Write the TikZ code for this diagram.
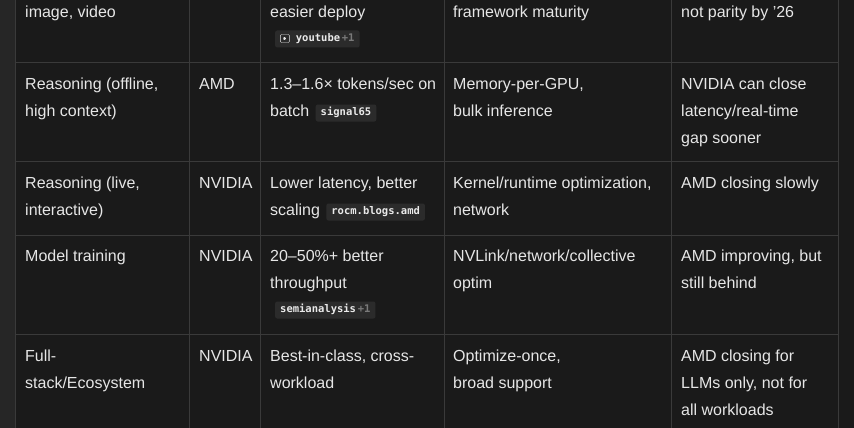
\documentclass[tikz,border=0pt]{standalone}
\usepackage{fontspec}
\setmainfont{Liberation Sans}
\setmonofont{DejaVu Sans Mono}
\usetikzlibrary{positioning}
\definecolor{bgcol}{HTML}{1A1A1A}
\definecolor{rulecol}{HTML}{3A3A3A}
\definecolor{txtcol}{HTML}{E6E6E6}
\definecolor{chipcol}{HTML}{2B2B2B}
\definecolor{dimcol}{HTML}{7A7A7A}
\tikzset{
  cell/.style={anchor=west,inner sep=0pt,yshift=-2pt,text height=11pt,text depth=4pt,text=txtcol,font=\fontsize{16}{16}\selectfont},
  chip/.style={anchor=west,fill=chipcol,rounded corners=2pt,inner xsep=5pt,inner ysep=4pt,
    text height=7pt,text depth=2pt,text=txtcol!85,font=\ttfamily\bfseries\fontsize{10.5}{10.5}\selectfont},
}
\newcommand{\plusone}{\,{\color{dimcol}+1}}
\begin{document}
\begin{tikzpicture}[x=1pt,y=-1pt]
\useasboundingbox (0,0) rectangle (854,428);
\fill[bgcol] (0,0) rectangle (854,428);
\fill[black!85] (0,0) rectangle (15,428);
% grid
\foreach \x in {15,189,260,444,671,838}
  \draw[rulecol] (\x,0) -- (\x,428);
\foreach \y in {62,161,235,334}
  \draw[rulecol] (15,\y) -- (838,\y);

% row 1 (cut)
\node[cell] (r1a) at (25,12) {image, video};
\node[cell] (r1c) at (270,12) {easier deploy};
\node[chip] (r1k) at (275,39) {\tikz[baseline=-3pt]{\draw[rounded corners=1pt] (0,-4) rectangle (9,4);\fill (3,-2.3) -- (6.5,0) -- (3,2.3) -- cycle;}\ youtube\plusone};
\node[cell] (r1d) at (453,12) {framework maturity};
\node[cell] (r1e) at (681,12) {not parity by '26};

% row 2
\node[cell] (r2a) at (25,84) {Reasoning (offline,};
\node[cell] at (25,111) {high context)};
\node[cell] (r2b) at (199,84) {AMD};
\node[cell] (r2c) at (270,84) {1.3–1.6× tokens/sec on};
\node[cell] (r2c2) at (270,111) {batch};
\node[chip,right=6pt of r2c2] (r2k) {signal65};
\node[cell] (r2d) at (453,84) {Memory-per-GPU,};
\node[cell] at (453,111) {bulk inference};
\node[cell] (r2e) at (681,84) {NVIDIA can close};
\node[cell] at (681,111) {latency/real-time};
\node[cell] at (681,138) {gap sooner};

% row 3
\node[cell] (r3a) at (25,183) {Reasoning (live,};
\node[cell] at (25,210) {interactive)};
\node[cell] (r3b) at (199,183) {NVIDIA};
\node[cell] (r3c) at (270,183) {Lower latency, better};
\node[cell] (r3c2) at (270,210) {scaling};
\node[chip,right=6pt of r3c2] (r3k) {rocm.blogs.amd};
\node[cell] (r3d) at (453,183) {Kernel/runtime optimization,};
\node[cell] at (453,210) {network};
\node[cell] (r3e) at (681,183) {AMD closing slowly};

% row 4
\node[cell] (r4a) at (25,256) {Model training};
\node[cell] (r4b) at (199,256) {NVIDIA};
\node[cell] (r4c) at (270,256) {20–50\%+ better};
\node[cell] at (270,283) {throughput};
\node[chip] (r4k) at (275,310) {semianalysis\plusone};
\node[cell] (r4d) at (453,256) {NVLink/network/collective};
\node[cell] at (453,283) {optim};
\node[cell] (r4e) at (681,256) {AMD improving, but};
\node[cell] at (681,283) {still behind};

% row 5
\node[cell] (r5a) at (25,356) {Full-};
\node[cell] at (25,383) {stack/Ecosystem};
\node[cell] (r5b) at (199,356) {NVIDIA};
\node[cell] (r5c) at (270,356) {Best-in-class, cross-};
\node[cell] at (270,383) {workload};
\node[cell] (r5d) at (453,356) {Optimize-once,};
\node[cell] at (453,383) {broad support};
\node[cell] (r5e) at (681,356) {AMD closing for};
\node[cell] at (681,383) {LLMs only, not for};
\node[cell] at (681,410) {all workloads};
\end{tikzpicture}
\end{document}
